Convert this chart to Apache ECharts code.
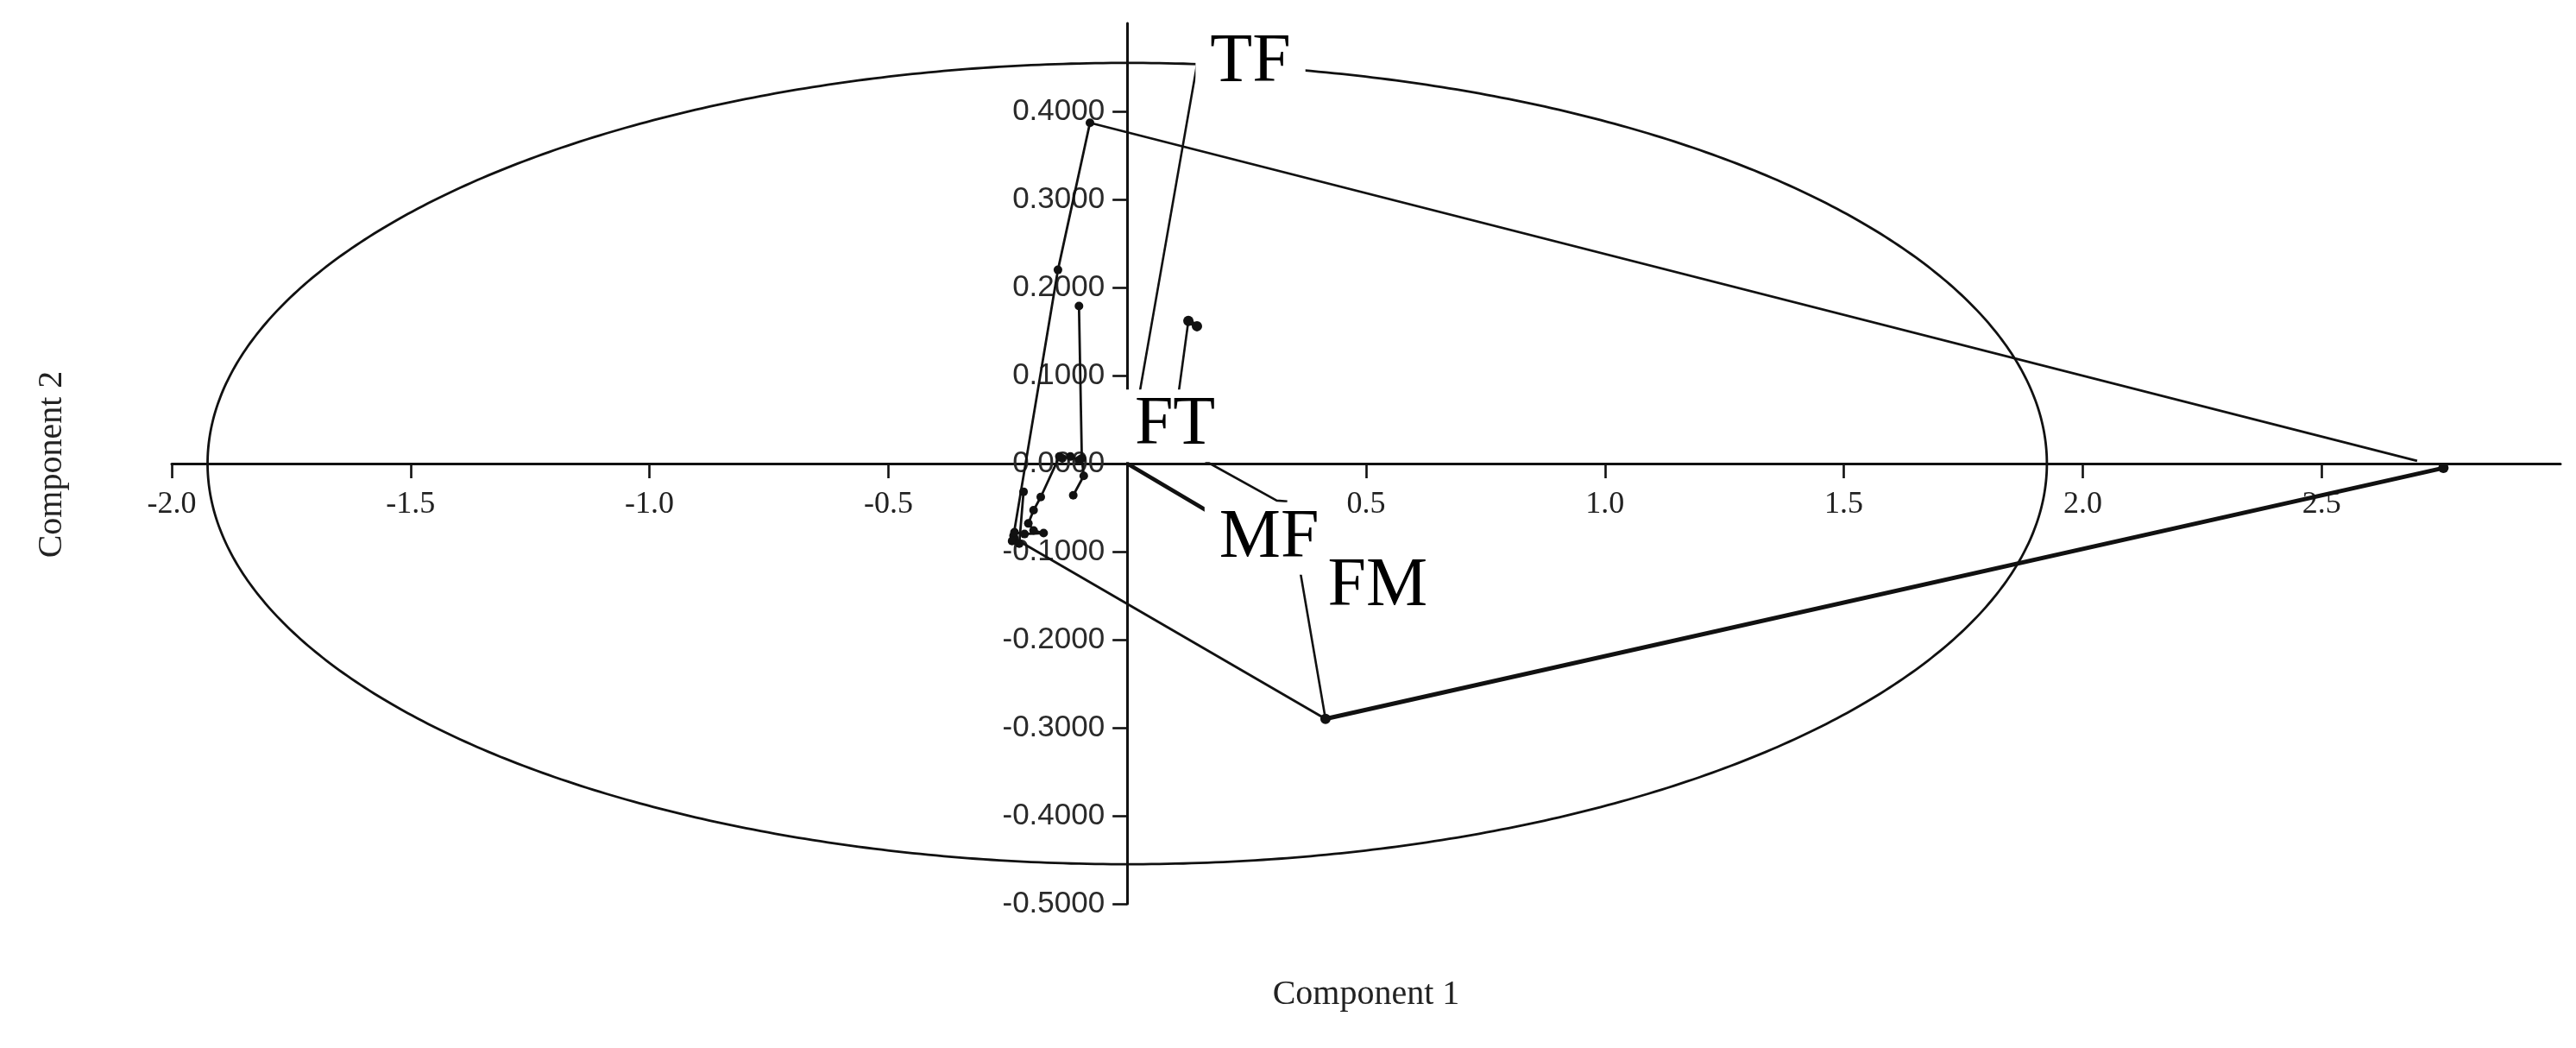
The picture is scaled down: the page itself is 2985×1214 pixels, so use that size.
<!DOCTYPE html>
<html><head><meta charset="utf-8">
<script src="https://cdn.jsdelivr.net/npm/echarts@6/dist/echarts.min.js"></script>
<style>html,body{margin:0;padding:0;background:#fff}#c{width:2985px;height:1214px}</style>
</head><body><div id="c"></div>
<script>
// ---- tick labels ----
const xTicks = [-2.0, -1.5, -1.0, -0.5, 0.5, 1.0, 1.5, 2.0, 2.5];
const yTicks = [-0.5, -0.4, -0.3, -0.2, -0.1, 0, 0.1, 0.2, 0.3, 0.4];
const xTitle = 'Component 1';
const yTitle = 'Component 2';

// ---- confidence ellipse (center, semi-axes) ----
const ellipseCenter = [0, 0];
const ellipseRadii = [1.925, 0.455];

// ---- observation paths ----
const hullUpperLead = [[2.70, 0.003], [-0.078, 0.387]];
const hullUpper = [[-0.078, 0.387], [-0.145, 0.220], [-0.238, -0.082]];
const hullLowerThick = [[2.755, -0.005], [0.415, -0.290]];
const hullLower = [[0.415, -0.290], [-0.236, -0.085]];
const trackB = [[-0.101, 0.179], [-0.095, 0.006], [-0.091, -0.014], [-0.113, -0.036]];
const trackC = [[-0.101, 0.004], [-0.119, 0.008], [-0.136, 0.006], [-0.142, 0.008],
                [-0.181, -0.038], [-0.196, -0.053], [-0.207, -0.068], [-0.196, -0.076],
                [-0.175, -0.079], [-0.215, -0.080], [-0.236, -0.078], [-0.241, -0.088],
                [-0.226, -0.091], [-0.217, -0.032]];
const ftPair = [[0.128, 0.162], [0.146, 0.156]];

// ---- variable labels and leader lines ----
const labelNames = ['TF', 'FT', 'MF', 'FM'];
const labelPos = [[0.258, 0.455], [0.100, 0.043], [0.297, -0.085], [0.524, -0.140]];
const leaderTF = [[0.146, 0.453], [0.0, 0.0]];
const leaderFT = [[0.100, 0.050], [0.128, 0.162]];
const leaderFM = [[0.130, 0.013], [0.313, -0.042], [0.335, -0.043]];
const leaderMF = [[0.355, -0.100], [0.415, -0.290]];
const vectorMF = [[0.0, 0.0], [0.190, -0.061]];

const INK = '#111';
function pathSeries(data, opt) {
  opt = opt || {};
  return {
    type: 'line', data: data, z: opt.z || 3,
    showSymbol: opt.symbol !== false, symbol: 'circle',
    symbolSize: opt.size || 10,
    itemStyle: { color: INK },
    lineStyle: { color: INK, width: opt.width || 2.8 },
    silent: true, animation: false
  };
}

const chart = echarts.init(document.getElementById('c'), null, { renderer: 'canvas' });
chart.setOption({
  animation: false,
  backgroundColor: '#fff',
  grid: { left: 199, right: 18, top: 27, bottom: 167, containLabel: false },
  xAxis: {
    type: 'value', min: -2, max: 3, interval: 0.5, position: 'bottom', offset: 0,
    axisLine: { onZero: false, lineStyle: { color: INK, width: 3 } },
    axisTick: { customValues: xTicks, length: 17, lineStyle: { color: INK, width: 2.6 } },
    axisLabel: { customValues: xTicks, margin: 30, color: '#222',
      fontFamily: 'Liberation Serif', fontSize: 36,
      formatter: v => v.toFixed(1) },
    splitLine: { show: false }
  },
  yAxis: {
    type: 'value', min: -0.5, max: 0.5, interval: 0.1, position: 'left', offset: 0,
    axisLine: { onZero: false, lineStyle: { color: INK, width: 3 } },
    axisTick: { customValues: yTicks, length: 17, lineStyle: { color: INK, width: 2.6 } },
    axisLabel: { customValues: yTicks, margin: 26, color: '#2a2a2a',
      fontFamily: 'Liberation Sans', fontSize: 35,
      formatter: v => v.toFixed(4) },
    splitLine: { show: false }
  },
  graphic: [
    { type: 'text', x: 1583, y: 1152, silent: true,
      style: { text: xTitle, align: 'center', verticalAlign: 'middle',
        font: '40px "Liberation Serif"', fill: '#222' } },
    { type: 'text', x: 60, y: 538, rotation: Math.PI / 2, silent: true,
      style: { text: yTitle, align: 'center', verticalAlign: 'middle',
        font: '40px "Liberation Serif"', fill: '#222' } }
  ],
  series: [
    {
      type: 'custom', data: [ellipseCenter], silent: true, z: 1,
      renderItem: function (params, api) {
        const cx = api.value(0), cy = api.value(1);
        const pts = [];
        for (let i = 0; i <= 720; i++) {
          const t = i * Math.PI / 360;
          pts.push(api.coord([cx + ellipseRadii[0] * Math.cos(t), cy + ellipseRadii[1] * Math.sin(t)]));
        }
        return { type: 'polyline', shape: { points: pts },
          style: { fill: null, stroke: INK, lineWidth: 2.8 } };
      }
    },
    pathSeries(hullUpperLead, { symbol: false }),
    pathSeries(hullUpper),
    pathSeries(hullLowerThick, { width: 5, size: 12 }),
    pathSeries(hullLower),
    pathSeries(trackB),
    pathSeries(trackC),
    pathSeries(ftPair, { width: 5.5, size: 12 }),
    pathSeries(leaderTF, { symbol: false, width: 2.6 }),
    pathSeries(leaderFT, { symbol: false, width: 2.6 }),
    pathSeries(leaderFM, { symbol: false, width: 2.6 }),
    pathSeries(leaderMF, { symbol: false, width: 2.6 }),
    pathSeries(vectorMF, { symbol: false, width: 4.6 }),
    {
      type: 'scatter', data: labelPos, z: 20, silent: true,
      symbolSize: 0.1, itemStyle: { color: 'rgba(0,0,0,0)', opacity: 1 },
      label: {
        show: true, position: 'inside',
        formatter: p => labelNames[p.dataIndex],
        fontFamily: 'Liberation Serif', fontSize: 80, color: '#000',
        textBorderWidth: 0, opacity: 1,
        backgroundColor: '#fff', padding: [2, 17]
      }
    }
  ]
});

// Move both axes so they cross at the data origin (positions taken from the axes' own scales)
const px0 = chart.convertToPixel({ xAxisIndex: 0 }, 0);
const pxLeft = chart.convertToPixel({ xAxisIndex: 0 }, -2);
const py0 = chart.convertToPixel({ yAxisIndex: 0 }, 0);
const pyBottom = chart.convertToPixel({ yAxisIndex: 0 }, -0.5);
chart.setOption({
  yAxis: { offset: pxLeft - px0 },
  xAxis: { offset: py0 - pyBottom }
});
</script>
</body></html>
